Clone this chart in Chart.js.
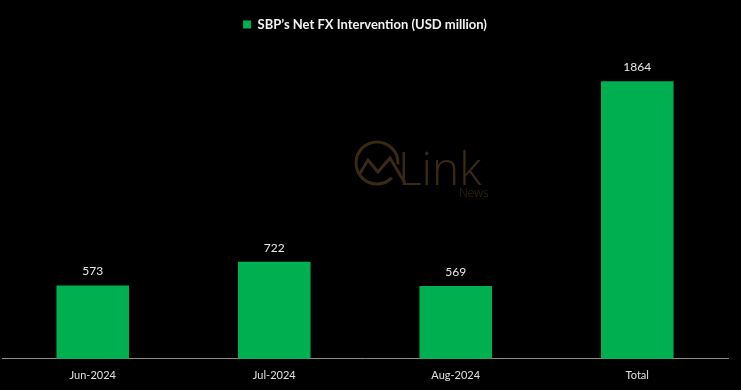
<!DOCTYPE html>
<html>
<head>
<meta charset="utf-8">
<script src="https://cdn.jsdelivr.net/npm/chart.js@4"></script>
<style>
  html, body { margin: 0; padding: 0; background: #000; }
  #wrap { width: 741px; height: 390px; }
</style>
</head>
<body>
<div id="wrap"><canvas id="c" width="741" height="390"></canvas></div>
<script>
const categories = ["Jun-2024", "Jul-2024", "Aug-2024", "Total"];
const interventionValues = [573, 722, 569, 1864];
const seriesLabel = "SBP\u2019s Net FX Intervention (USD million)";

const bgPlugin = {
  id: 'bg',
  beforeDraw(chart) {
    const ctx = chart.ctx;
    ctx.save();
    ctx.fillStyle = '#000';
    ctx.fillRect(0, 0, chart.width, chart.height);
    // watermark
    ctx.strokeStyle = '#3a2a15';
    ctx.fillStyle = '#3a2a15';
    ctx.lineWidth = 3;
    ctx.beginPath();
    ctx.arc(377, 163, 21, Math.PI * 0.25, Math.PI * 2.02);
    ctx.stroke();
    ctx.beginPath();
    ctx.moveTo(359, 175);
    ctx.lineTo(368, 160);
    ctx.lineTo(378, 172);
    ctx.lineTo(390, 158);
    ctx.lineTo(405, 183);
    ctx.stroke();
    ctx.font = '300 46px "Open Sans"';
    ctx.textBaseline = 'alphabetic';
    ctx.textAlign = 'left';
    ctx.fillText('Link', 398, 185);
    ctx.font = '300 12px "Open Sans"';
    ctx.fillText('News', 459, 197);
    ctx.restore();
  }
};

const labelPlugin = {
  id: 'vals',
  afterDatasetsDraw(chart) {
    const ctx = chart.ctx;
    const meta = chart.getDatasetMeta(0);
    ctx.save();
    ctx.fillStyle = '#e8e8e8';
    ctx.font = '12px Lato';
    ctx.textAlign = 'center';
    ctx.textBaseline = 'middle';
    meta.data.forEach((bar, i) => {
      ctx.fillText(String(chart.data.datasets[0].data[i]), bar.x, bar.y - 14);
    });
    ctx.restore();
  }
};

new Chart(document.getElementById('c'), {
  type: 'bar',
  data: {
    labels: categories,
    datasets: [{
      label: seriesLabel,
      data: interventionValues,
      backgroundColor: '#00b050',
      borderWidth: 0,
      barPercentage: 0.4,
      categoryPercentage: 1.0
    }]
  },
  options: {
    responsive: false,
    animation: false,
    layout: { padding: { left: 2, right: 13, top: 8, bottom: 6 } },
    plugins: {
      legend: {
        display: true,
        position: 'top',
        labels: {
          color: '#f2f2f2',
          boxWidth: 8,
          boxHeight: 8,
          font: { family: 'Lato', weight: 'bold', size: 13 },
          padding: 10
        }
      },
      tooltip: { enabled: false }
    },
    scales: {
      x: {
        offset: true,
        grid: { display: false },
        border: { display: true, color: '#8c8c8c', width: 1 },
        ticks: { color: '#e0e0e0', font: { family: 'Lato', size: 11 }, padding: 2 }
      },
      y: {
        display: false,
        min: 109,
        max: 2118
      }
    }
  },
  plugins: [bgPlugin, labelPlugin]
});
</script>
</body>
</html>
